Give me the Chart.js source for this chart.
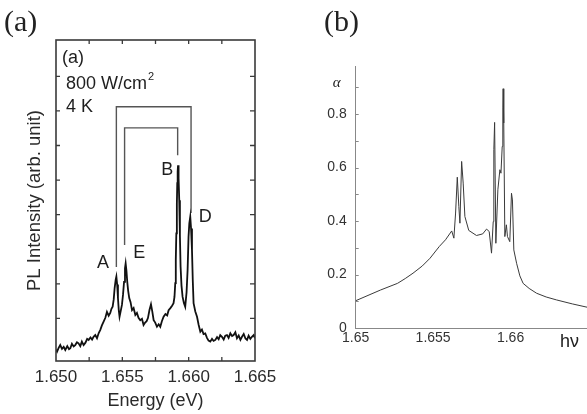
<!DOCTYPE html>
<html>
<head>
<meta charset="utf-8">
<script src="https://cdn.jsdelivr.net/npm/chart.js@4/dist/chart.umd.min.js"></script>
<style>
  html, body { margin: 0; padding: 0; background: #fff; overflow: hidden; }
  #wrap { position: relative; width: 587px; height: 414px; overflow: hidden; }
  #ca { position: absolute; left: 0; top: 0; }
  #cb { position: absolute; left: 290px; top: 0; }
  .tag { position: absolute; font-family: "Liberation Serif", "Times New Roman", serif; font-size: 30px; color: #222; line-height: 32px; }
</style>
</head>
<body>
<div id="wrap">
  <canvas id="ca" width="290" height="414"></canvas>
  <canvas id="cb" width="300" height="414"></canvas>
  <div class="tag" style="left:4px; top:5px;">(a)</div>
  <div class="tag" style="left:324px; top:5px;">(b)</div>
</div>
<script>
// (a) measured PL spectrum
const aEnergy = [1.65000, 1.65008, 1.65020, 1.65032, 1.65045, 1.65058, 1.65070, 1.65085, 1.65098, 1.65108,
  1.65120, 1.65133, 1.65145, 1.65158, 1.65170, 1.65183, 1.65195, 1.65208, 1.65222, 1.65235,
  1.65246, 1.65260, 1.65272, 1.65283, 1.65296, 1.65309, 1.65322, 1.65334, 1.65346, 1.65359,
  1.65372, 1.65384, 1.65397, 1.65409, 1.65418, 1.65427, 1.65435, 1.65442, 1.65450, 1.65455,
  1.65461, 1.65467, 1.65473, 1.65479, 1.65488, 1.65497, 1.65505, 1.65513, 1.65520, 1.65525,
  1.65531, 1.65537, 1.65544, 1.65552, 1.65562, 1.65573, 1.65585, 1.65598, 1.65610, 1.65622,
  1.65635, 1.65648, 1.65660, 1.65672, 1.65683, 1.65693, 1.65705, 1.65716, 1.65726, 1.65736,
  1.65748, 1.65761, 1.65774, 1.65786, 1.65798, 1.65811, 1.65825, 1.65838, 1.65849, 1.65862,
  1.65875, 1.65886, 1.65893, 1.65899, 1.65903, 1.65907, 1.65911, 1.65914, 1.65917, 1.65920,
  1.65924, 1.65929, 1.65934, 1.65939, 1.65946, 1.65954, 1.65964, 1.65974, 1.65984, 1.65992,
  1.65999, 1.66005, 1.66012, 1.66018, 1.66025, 1.66031, 1.66037, 1.66050, 1.66063, 1.66075,
  1.66088, 1.66100, 1.66112, 1.66125, 1.66138, 1.66150, 1.66163, 1.66176, 1.66188, 1.66201,
  1.66214, 1.66226, 1.66238, 1.66251, 1.66264, 1.66276, 1.66289, 1.66301, 1.66314, 1.66327,
  1.66339, 1.66352, 1.66364, 1.66377, 1.66390, 1.66402, 1.66415, 1.66428, 1.66440, 1.66452,
  1.66465, 1.66477, 1.66490, 1.66500];
const aIntensity = [0.10, 0.04, 0.15, 0.23, 0.12, 0.18, 0.09, 0.20, 0.11, 0.14,
  0.27, 0.19, 0.23, 0.31, 0.28, 0.20, 0.33, 0.23, 0.30, 0.41,
  0.38, 0.45, 0.39, 0.47, 0.52, 0.43, 0.58, 0.67, 0.80, 0.91,
  1.02, 1.19, 1.08, 1.16, 1.28, 1.34, 1.55, 1.88, 2.12, 2.21,
  1.98, 1.59, 1.25, 1.05, 1.22, 1.39, 1.68, 2.06, 2.45, 2.59,
  2.38, 2.06, 1.80, 1.59, 1.47, 1.24, 1.30, 1.10, 1.16, 1.02,
  0.95, 0.99, 0.81, 0.88, 0.92, 1.01, 1.25, 1.41, 1.20, 0.95,
  0.88, 0.76, 0.83, 0.76, 0.92, 1.05, 1.13, 1.09, 1.24, 1.30,
  1.37, 1.44, 1.62, 2.02, 2.70, 3.46, 4.30, 4.91, 5.25, 5.43,
  5.05, 4.42, 3.40, 2.50, 1.95, 1.63, 1.45, 1.34, 1.75, 2.40,
  3.36, 3.75, 3.94, 3.60, 2.98, 2.10, 1.44, 1.20, 1.05, 0.82,
  0.62, 0.68, 0.55, 0.57, 0.44, 0.36, 0.33, 0.41, 0.35, 0.38,
  0.46, 0.40, 0.52, 0.47, 0.39, 0.50, 0.52, 0.44, 0.57, 0.49,
  0.52, 0.60, 0.43, 0.51, 0.38, 0.47, 0.55, 0.42, 0.38, 0.50,
  0.41, 0.47, 0.52, 0.43];

// brackets joining A-D and E-B
const outerBracketE = [1.65455, 1.65455, 1.66018, 1.66018];
const outerBracketI = [2.49, 7.12, 7.12, 4.05];
const innerBracketE = [1.65517, 1.65517, 1.65917, 1.65917];
const innerBracketI = [3.12, 6.51, 6.51, 5.72];

// peak names and where they sit (energy, intensity)
const peakNames = ['A', 'E', 'B', 'D'];
const peakLabelE = [1.65354, 1.65628, 1.65839, 1.66125];
const peakLabelI = [2.60, 2.89, 5.29, 3.94];

const aTicksX = [1.650, 1.655, 1.660, 1.665];

// (b) calculated absorption
const bEnergy = [1.6500, 1.6516, 1.6527, 1.6532, 1.6537, 1.6543, 1.6548, 1.6554, 1.6558, 1.6562,
  1.65634, 1.65645, 1.65656, 1.65666, 1.65673, 1.65684, 1.65694, 1.65705, 1.6573, 1.6578,
  1.6582, 1.65845, 1.65862, 1.65877, 1.65888, 1.65892, 1.65897, 1.65905, 1.65918, 1.65931,
  1.65938, 1.65946, 1.65950, 1.65952, 1.65956, 1.65963, 1.65973, 1.6598, 1.65995, 1.66006,
  1.66012, 1.66021, 1.66039, 1.6606, 1.66081, 1.6612, 1.66168, 1.6623, 1.66297, 1.6640,
  1.6650];
const bAlpha = [0.102, 0.142, 0.167, 0.185, 0.205, 0.232, 0.261, 0.305, 0.330, 0.363,
  0.336, 0.430, 0.564, 0.454, 0.392, 0.623, 0.542, 0.417, 0.365, 0.346,
  0.352, 0.370, 0.361, 0.280, 0.398, 0.667, 0.769, 0.317, 0.517, 0.592,
  0.579, 0.679, 0.823, 0.895, 0.767, 0.342, 0.386, 0.342, 0.323, 0.504,
  0.479, 0.292, 0.242, 0.195, 0.167, 0.148, 0.130, 0.116, 0.105, 0.090,
  0.077];

const bTicksX = [1.65, 1.655, 1.66];
const bTicksY = [0, 0.2, 0.4, 0.6, 0.8];

const sans = '"Liberation Sans", Arial, Helvetica, sans-serif';

function pts(xs, ys) {
  return xs.map((v, i) => ({ x: v, y: ys[i] }));
}
function near(v, list) {
  return list.some(t => Math.abs(t - v) < 1e-6);
}

// frame with inward ticks for panel (a)
const boxTicks = {
  id: 'boxTicks',
  afterDatasetsDraw(chart) {
    const { ctx, chartArea: a, scales: { x, y } } = chart;
    ctx.save();
    ctx.strokeStyle = '#3a3a3a';
    ctx.lineWidth = 1.6;
    ctx.strokeRect(a.left, a.top, a.right - a.left, a.bottom - a.top);
    ctx.lineWidth = 1.3;
    ctx.beginPath();
    x.ticks.forEach(t => {
      const px = x.getPixelForValue(t.value);
      if (px <= a.left + 1 || px >= a.right - 1) return;
      ctx.moveTo(px, a.bottom); ctx.lineTo(px, a.bottom - 4);
      ctx.moveTo(px, a.top); ctx.lineTo(px, a.top + 4);
    });
    y.ticks.forEach(t => {
      if (Math.abs(t.value - Math.round(t.value)) > 1e-6) return;
      const py = y.getPixelForValue(t.value);
      if (py <= a.top + 2 || py >= a.bottom - 1) return;
      ctx.moveTo(a.left, py); ctx.lineTo(a.left + 4, py);
      ctx.moveTo(a.right, py); ctx.lineTo(a.right - 5, py);
    });
    ctx.stroke();
    ctx.restore();
  }
};

// texts inside panel (a)
const notesA = {
  id: 'notesA',
  afterDatasetsDraw(chart) {
    const { ctx, chartArea: a, scales: { x, y } } = chart;
    ctx.save();
    ctx.fillStyle = '#1e1e1e';
    ctx.font = '18px ' + sans;
    ctx.textBaseline = 'middle';
    ctx.textAlign = 'left';
    ctx.fillText('(a)', a.left + 6, a.top + 18);
    ctx.fillText('800 W/cm', a.left + 10, a.top + 44);
    const w = ctx.measureText('800 W/cm').width;
    ctx.font = '11px ' + sans;
    ctx.fillText('2', a.left + 11 + w, a.top + 37);
    ctx.font = '18px ' + sans;
    ctx.fillText('4 K', a.left + 10, a.top + 67);
    ctx.textAlign = 'center';
    peakNames.forEach((n, i) => {
      ctx.fillText(n, x.getPixelForValue(peakLabelE[i]), y.getPixelForValue(peakLabelI[i]));
    });
    ctx.restore();
  }
};

new Chart(document.getElementById('ca'), {
  type: 'scatter',
  data: {
    datasets: [
      { data: pts(aEnergy, aIntensity), showLine: true, borderColor: '#111', borderWidth: 1.8, pointRadius: 0, tension: 0 },
      { data: pts(outerBracketE, outerBracketI), showLine: true, borderColor: '#555', borderWidth: 1.4, pointRadius: 0 },
      { data: pts(innerBracketE, innerBracketI), showLine: true, borderColor: '#555', borderWidth: 1.4, pointRadius: 0 }
    ]
  },
  options: {
    responsive: false,
    animation: false,
    layout: { padding: { left: 0, top: 40, right: 35, bottom: 0 } },
    plugins: { legend: { display: false }, tooltip: { enabled: false } },
    scales: {
      x: {
        type: 'linear', min: 1.650, max: 1.665,
        grid: { display: false, drawTicks: false }, border: { display: false },
        ticks: {
          stepSize: 0.0025, autoSkip: false, maxRotation: 0, padding: 6,
          color: '#2a2a2a', font: { family: sans, size: 17 },
          callback: v => near(v, aTicksX) ? v.toFixed(3) : ''
        },
        title: { display: true, text: 'Energy (eV)', color: '#2a2a2a', font: { family: sans, size: 18 }, padding: { top: 0, bottom: 2 } },
        afterFit(s) { s.height = 53; }
      },
      y: {
        min: -0.23, max: 9.05,
        grid: { display: false, drawTicks: false }, border: { display: false },
        ticks: { stepSize: 1, display: false },
        title: { display: true, text: 'PL Intensity (arb. unit)', color: '#2a2a2a', font: { family: sans, size: 18.5 }, padding: { top: 24, bottom: 0 } },
        afterFit(s) { s.width = 56; }
      }
    }
  },
  plugins: [boxTicks, notesA]
});

// axis ticks and symbols for panel (b)
const notesB = {
  id: 'notesB',
  afterDatasetsDraw(chart) {
    const { ctx, chartArea: a, scales: { y } } = chart;
    ctx.save();
    ctx.strokeStyle = '#888';
    ctx.lineWidth = 1;
    ctx.beginPath();
    y.ticks.forEach(t => {
      if (Math.abs(t.value * 10 - Math.round(t.value * 10)) > 1e-6) return;
      const py = Math.round(y.getPixelForValue(t.value)) + 0.5;
      ctx.moveTo(a.left, py); ctx.lineTo(a.left + 3, py);
    });
    ctx.stroke();
    ctx.fillStyle = '#222';
    ctx.textBaseline = 'middle';
    ctx.textAlign = 'left';
    ctx.font = 'italic 15px "Liberation Serif", "Times New Roman", serif';
    ctx.fillText('α', a.left - 23, a.top + 17);
    ctx.font = '18px ' + sans;
    ctx.fillText('hν', a.right - 28, a.bottom + 14);
    ctx.restore();
  }
};

new Chart(document.getElementById('cb'), {
  type: 'scatter',
  data: {
    datasets: [
      { data: pts(bEnergy, bAlpha), showLine: true, borderColor: '#3a3a3a', borderWidth: 1, pointRadius: 0, tension: 0 }
    ]
  },
  options: {
    responsive: false,
    animation: false,
    layout: { padding: { left: 0, top: 66, right: 1.8, bottom: 0 } },
    plugins: { legend: { display: false }, tooltip: { enabled: false } },
    scales: {
      x: {
        type: 'linear', min: 1.65, max: 1.665,
        grid: { display: false, drawTicks: false },
        border: { display: true, color: '#888', width: 1 },
        ticks: {
          stepSize: 0.005, autoSkip: false, maxRotation: 0, padding: 2,
          color: '#333', font: { family: sans, size: 14 },
          callback: v => near(v, bTicksX) ? String(parseFloat(v.toFixed(3))) : ''
        },
        afterFit(s) { s.height = 86; }
      },
      y: {
        min: 0, max: 0.98,
        grid: { display: false, drawTicks: false },
        border: { display: true, color: '#888', width: 1 },
        ticks: {
          stepSize: 0.1, autoSkip: false, padding: 9,
          color: '#333', font: { family: sans, size: 14 },
          callback: v => near(v, bTicksY) ? String(parseFloat(v.toFixed(1))) : ''
        },
        afterFit(s) { s.width = 65.7; }
      }
    }
  },
  plugins: [notesB]
});
</script>
</body>
</html>
